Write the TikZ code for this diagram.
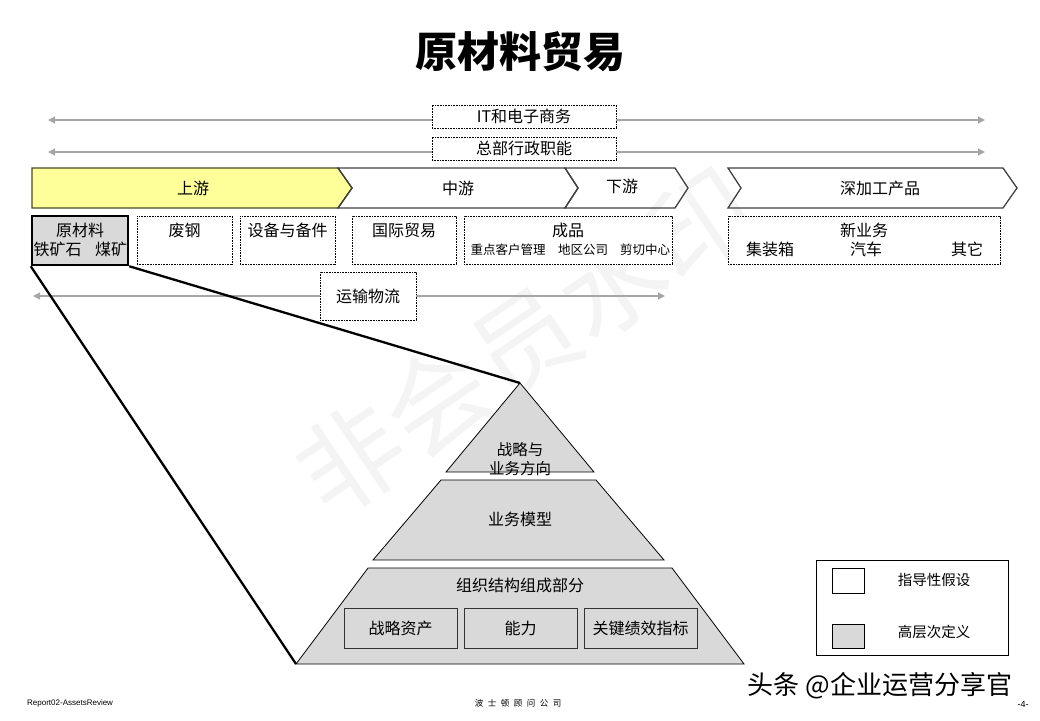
\documentclass[tikz,border=0pt]{standalone}
\usepackage{fontspec}
\setmainfont{Noto Sans CJK SC}
\newfontfamily\latinfont{Liberation Sans}
\usetikzlibrary{arrows.meta,positioning}
\definecolor{upfill}{HTML}{FFFF99}
\definecolor{upline}{HTML}{4A4A24}
\definecolor{pyrgray}{HTML}{D9D9D9}
\newcommand{\lsp}{\hspace{4.5pt}}

\begin{document}
\begin{tikzpicture}[x=1pt, y=-1pt,
  txt/.style={font=\fontsize{16}{19}\selectfont, inner sep=0pt},
  small/.style={font=\fontsize{12.5}{15}\selectfont, inner sep=0pt},
  legtxt/.style={font=\fontsize{14.5}{17}\selectfont, inner sep=0pt},
  dotbox/.style={draw, dash pattern=on 0.8pt off 0.8pt, line width=0.7pt,
    fill=white, inner sep=0pt},
  garrow/.style={draw=gray!70, line width=1.4pt, -{Triangle[length=7pt,width=7pt]}},
  chev/.style={draw=black!75, line width=1.3pt, line join=miter},
  level/.style={draw=black, fill=pyrgray, line width=0.8pt},
  partbox/.style={draw=black!80, fill=pyrgray, line width=0.8pt,
    minimum width=113pt, minimum height=40pt, inner sep=0pt,
    font=\fontsize{16}{19}\selectfont},
  zoomline/.style={line width=2.3pt, line join=round},
  >=Stealth,
]
  \useasboundingbox (0,0) rectangle (1040,720);

  % Watermark
  \node[rotate=34, text=gray!9, font=\fontsize{105}{110}\selectfont,
    inner sep=0pt] (wm) at (525,342) {非会员水印};

  % Title
  \node[font=\fontsize{42}{48}\selectfont\bfseries] (title) at (520,52) {原材料贸易};

  % Support functions
  \node[dotbox, txt, minimum width=184pt, minimum height=23pt] (it) at (524,116.5)
    {IT和电子商务};
  \node[dotbox, txt, minimum width=184pt, minimum height=23pt] (hq) at (524,148.5)
    {总部行政职能};
  \coordinate (itL) at (48,120);
  \coordinate (itR) at (985,120);
  \coordinate (hqL) at (48,152);
  \coordinate (hqR) at (985,152);
  \draw[garrow] (it.west |- itL) -- (itL);
  \draw[garrow] (it.east |- itR) -- (itR);
  \draw[garrow] (hq.west |- hqL) -- (hqL);
  \draw[garrow] (hq.east |- hqR) -- (hqR);

  % Value chain
  \draw[chev, draw=upline, fill=upfill]
    (32,168) -- (338,168) -- (352,188) -- (338,208) -- (32,208) -- cycle;
  \draw[chev]
    (338,168) -- (565,168) -- (578,188) -- (565,208) -- (338,208) -- (352,188) -- cycle;
  \draw[chev]
    (565,168) -- (675,168) -- (688,188) -- (675,208) -- (565,208) -- (578,188) -- cycle;
  \draw[chev]
    (728,168) -- (1003,168) -- (1017,188) -- (1003,208) -- (728,208) -- (741,188) -- cycle;
  \node[txt] (up) at (193,188) {上游};
  \node[txt] (mid) at (458,188) {中游};
  \node[txt] (down) at (622,186) {下游};
  \node[txt] (deep) at (880,188) {深加工产品};

  % Business boxes
  \node[dotbox, minimum width=95pt, minimum height=48pt] (fg) at (184.5,240) {};
  \node[txt] at (184.5,230) {废钢};
  \node[dotbox, minimum width=95pt, minimum height=48pt] (sb) at (287.5,240) {};
  \node[txt] at (287.5,230) {设备与备件};
  \node[dotbox, minimum width=104pt, minimum height=48pt] (gj) at (404,240) {};
  \node[txt] at (404,230) {国际贸易};
  \node[dotbox, minimum width=208pt, minimum height=48pt] (cp) at (568,240) {};
  \node[txt] at (568,230) {成品};
  \node[small] at (508,250) {重点客户管理};
  \node[small] at (583,250) {地区公司};
  \node[small] at (645,250) {剪切中心};
  \node[dotbox, minimum width=272pt, minimum height=48pt] (xyw) at (864,240) {};
  \node[txt] at (864,230) {新业务};
  \node[txt] at (770,249) {集装箱};
  \node[txt] at (866,249) {汽车};
  \node[txt] at (967,249) {其它};

  % Logistics
  \node[dotbox, txt, minimum width=96pt, minimum height=48pt] (ys) at (368,296) {运输物流};
  \coordinate (ysL) at (33,296);
  \coordinate (ysR) at (665,296);
  \draw[garrow] (ys.west) -- (ysL);
  \draw[garrow] (ys.east) -- (ysR);

  % Raw material box and zoom lines
  \coordinate (apex) at (520,383);
  \coordinate (baseL) at (296,664);
  \node[draw, line width=2.5pt, fill=pyrgray, minimum width=96pt, minimum height=49pt,
    inner sep=0pt] (rm) at (80,240.5) {};
  \node[txt] at (80,230) {原材料};
  \node[txt] at (57.5,249) {铁矿石};
  \node[txt] at (111,249) {煤矿};
  \draw[zoomline] (rm.south east) -- (apex);
  \draw[zoomline] (rm.south west) -- (baseL);

  % Pyramid
  \draw[level] (apex) -- (594,472) -- (446,472) -- cycle;
  \draw[level] (441,480) -- (596,480) -- (664,560) -- (373,560) -- cycle;
  \draw[level] (368,568) -- (672,568) -- (744,664) -- (baseL) -- cycle;
  \node[txt, align=center, font=\fontsize{15.5}{19}\selectfont] (top) at (520,459)
    {战略与\\业务方向};
  \node[txt] (model) at (520,519) {业务模型};
  \node[txt] (org) at (520,585) {组织结构组成部分};
  \node[partbox] (asset) at (400.5,628) {战略资产};
  \node[partbox] (cap) at (520.5,628) {能力};
  \node[partbox] (kpi) at (640.5,628) {关键绩效指标};

  % Legend
  \draw[line width=0.8pt] (816,560) rectangle (1008,655);
  \draw[line width=0.8pt, fill=white] (832,568) rectangle (864,593);
  \draw[line width=0.8pt, fill=pyrgray] (832,624) rectangle (864,648);
  \node[legtxt] (lg1) at (934,580) {指导性假设};
  \node[legtxt] (lg2) at (934,632) {高层次定义};

  % Footer
  \node[font=\latinfont\fontsize{8}{9}\selectfont, anchor=west, inner sep=0pt]
    (rep) at (27,703) {Report02-AssetsReview};
  \node[font=\fontsize{8.5}{10}\selectfont, inner sep=0pt] (firm) at (518,703)
    {波\lsp 士\lsp 顿\lsp 顾\lsp 问\lsp 公\lsp 司};
  \node[font=\fontsize{26}{30}\selectfont, inner sep=0pt] (tt) at (880,686)
    {头条 @企业运营分享官};
  \node[font=\latinfont\fontsize{9}{10}\selectfont, inner sep=0pt] (pg) at (1023,704) {-4-};
\end{tikzpicture}
\end{document}
